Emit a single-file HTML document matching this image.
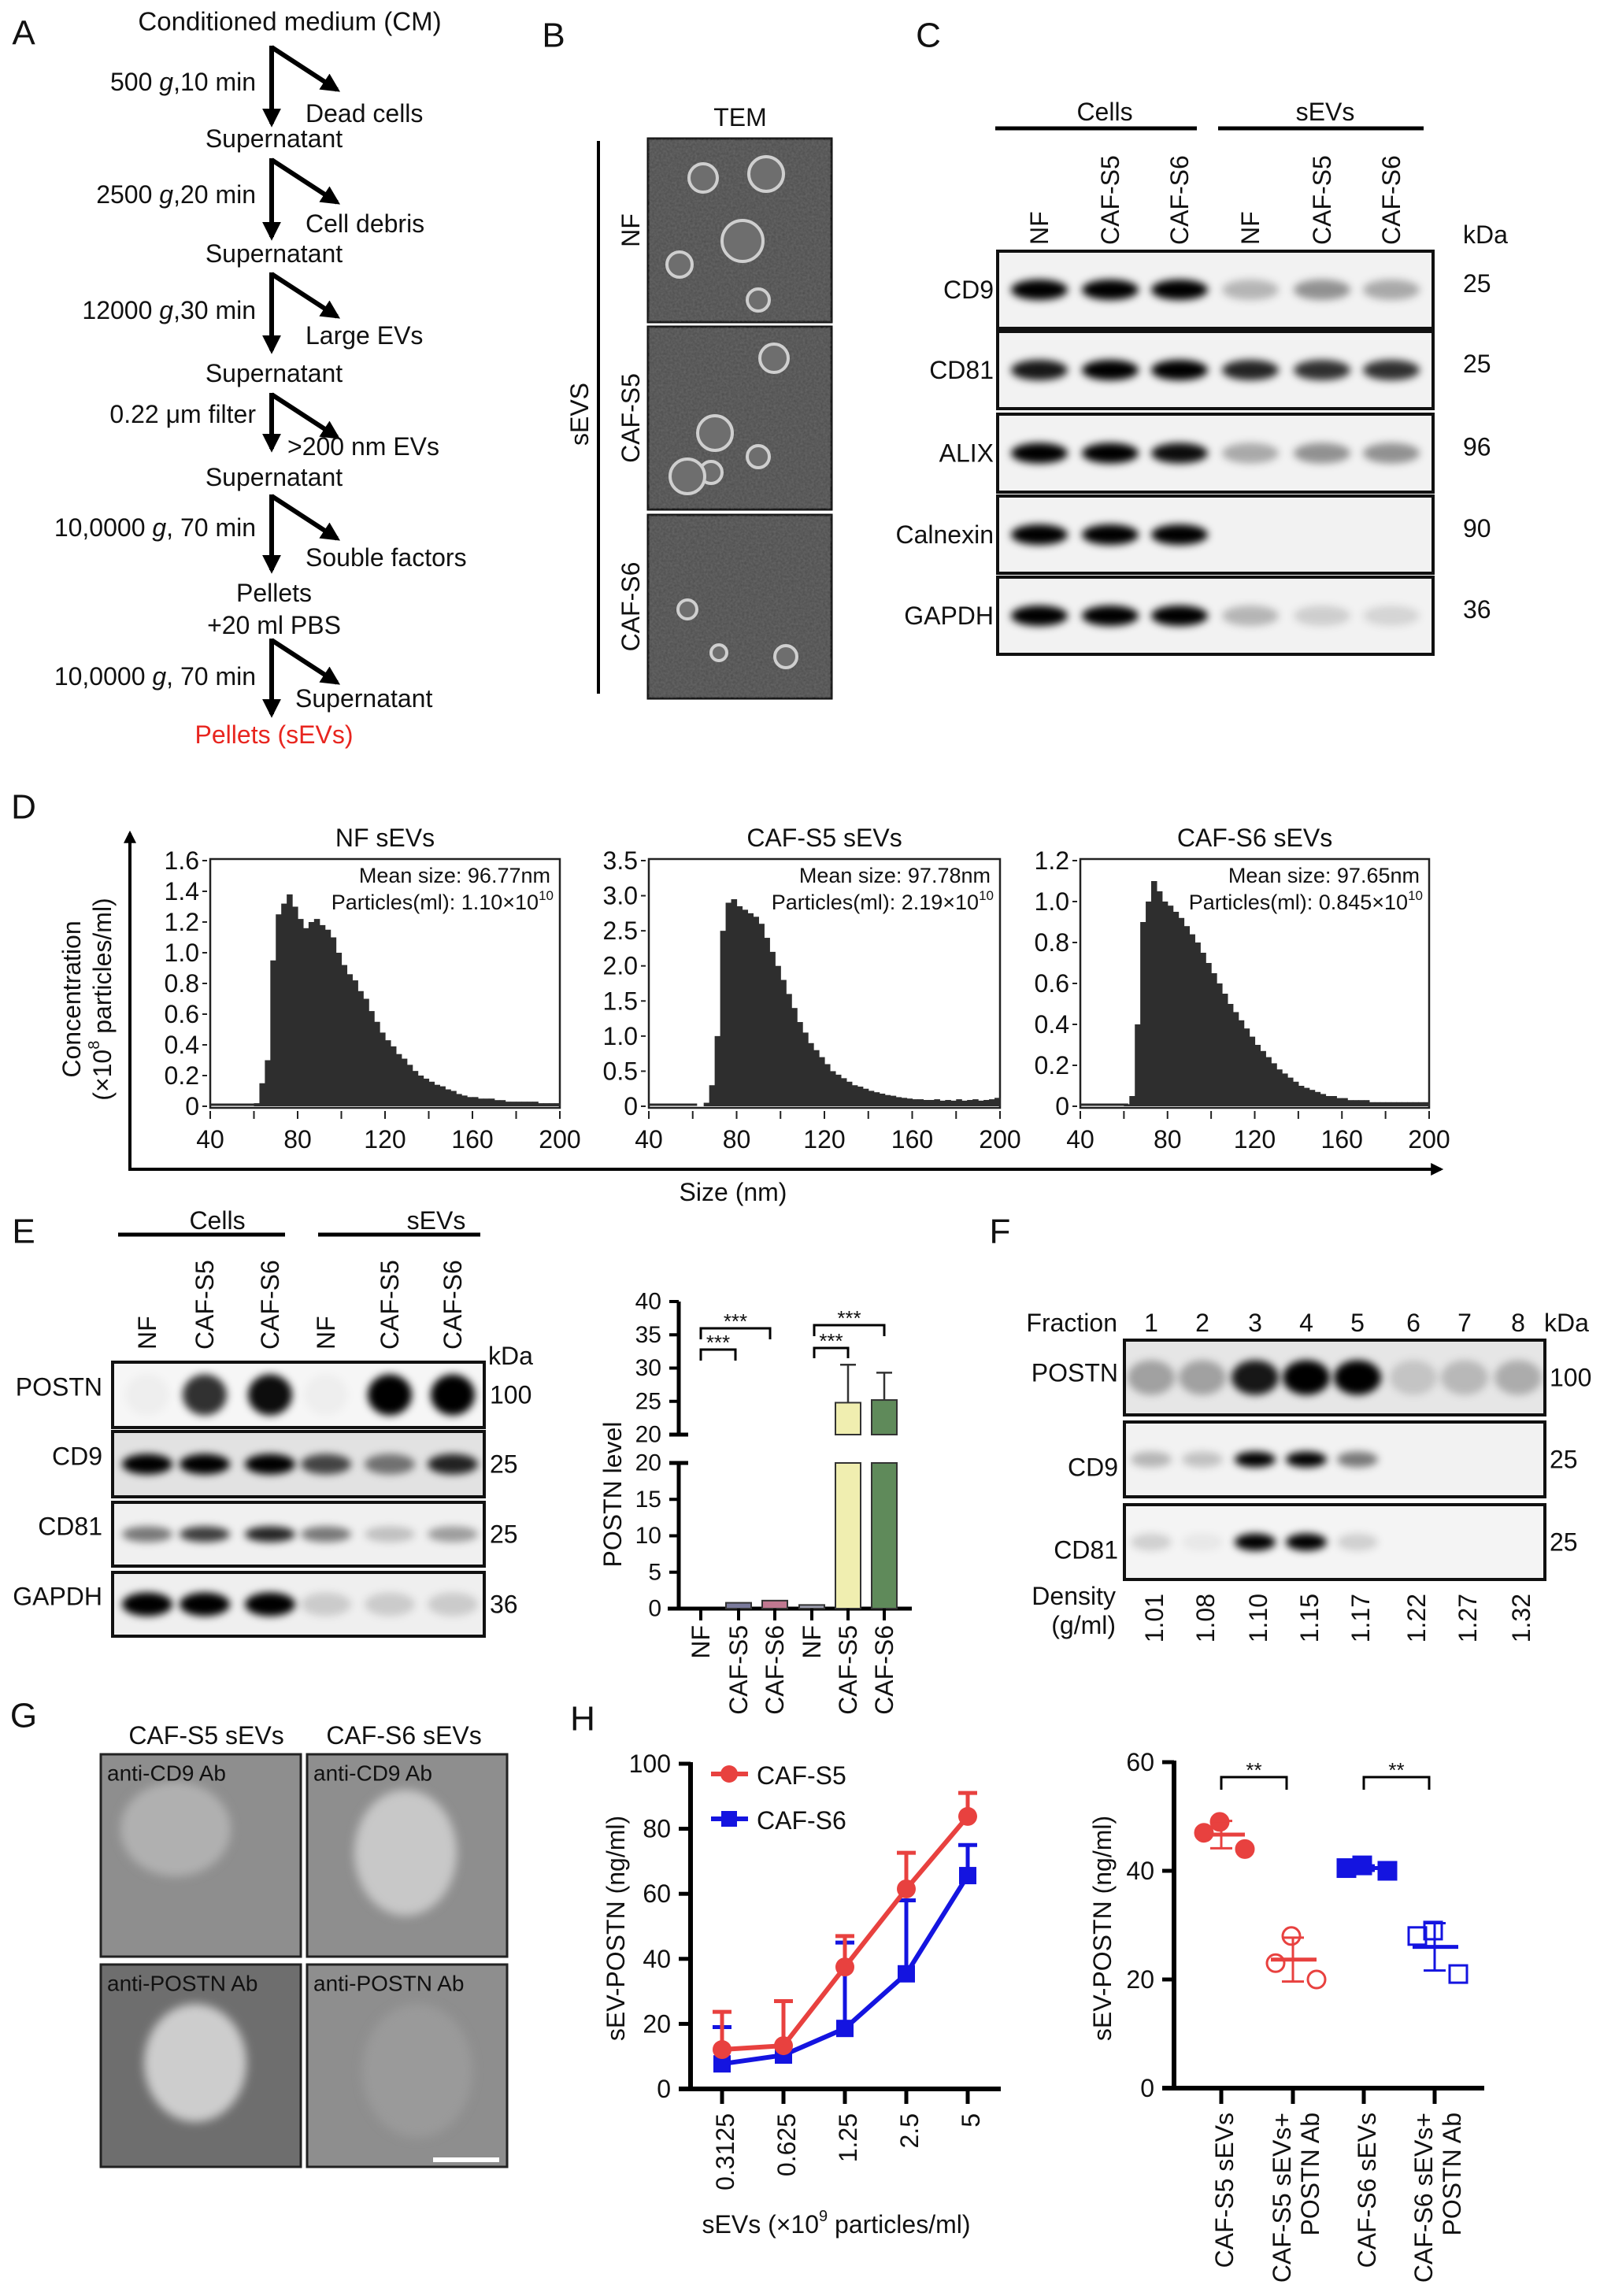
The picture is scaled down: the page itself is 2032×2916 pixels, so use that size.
<!DOCTYPE html>
<html><head><meta charset="utf-8"><style>
html,body{margin:0;padding:0;background:#fff}
svg{display:block}
text{font-family:"Liberation Sans",sans-serif;fill:#111}
</style></head><body>
<svg id="fig" xmlns="http://www.w3.org/2000/svg" width="2032" height="2916" viewBox="0 0 2032 2916">
<defs>
<filter id="blur" x="-50%" y="-100%" width="200%" height="300%"><feGaussianBlur stdDeviation="5"/></filter>
<filter id="noise" x="0" y="0" width="100%" height="100%"><feTurbulence type="fractalNoise" baseFrequency="0.35" numOctaves="2" seed="3"/><feColorMatrix type="matrix" values="0 0 0 0 0.35  0 0 0 0 0.35  0 0 0 0 0.35  0 0 0 0.5 0"/></filter>
<filter id="soft"><feGaussianBlur stdDeviation="6"/></filter>
<marker id="ah" viewBox="0 0 10 10" refX="8" refY="5" markerWidth="4" markerHeight="4" orient="auto"><path d="M0,0 L10,5 L0,10 z" fill="#000"/></marker>
</defs>
<g id="root"></g>
</svg>
<script>
const NS='http://www.w3.org/2000/svg';
const root=document.getElementById('root');
function el(tag,attrs,parent,txt){const e=document.createElementNS(NS,tag);for(const k in attrs)e.setAttribute(k,attrs[k]);if(txt!==undefined)e.textContent=txt;(parent||root).appendChild(e);return e;}
function T(x,y,s,size,anchor,extra,parent){const a={x:x,y:y,'font-size':size||32,'text-anchor':anchor||'middle','dominant-baseline':'central'};if(extra)for(const k in extra)a[k]=extra[k];return el('text',a,parent,s);}
function RT(x,y,s,size,anchor,parent){const e=el('text',{x:0,y:0,'font-size':size,'text-anchor':anchor,'dominant-baseline':'central',transform:'translate('+x+','+y+') rotate(-90)'},parent,s);return e;}

// ===== data arrays =====
const histBins=[40,42.5,45,47.5,50,52.5,55,57.5,60,62.5,65,67.5,70,72.5,75,77.5,80,82.5,85,87.5,90,92.5,95,97.5,100,102.5,105,107.5,110,112.5,115,117.5,120,122.5,125,127.5,130,132.5,135,137.5,140,142.5,145,147.5,150,152.5,155,157.5,160,162.5,165,167.5,170,172.5,175,177.5,180,182.5,185,187.5,190,192.5,195,197.5];
const nfHist=[0,0,0,0,0,0,0,0,0.02,0.15,0.3,0.95,1.25,1.32,1.38,1.3,1.22,1.16,1.2,1.22,1.18,1.15,1.1,1.0,0.92,0.86,0.82,0.75,0.7,0.62,0.55,0.48,0.43,0.39,0.34,0.31,0.27,0.23,0.2,0.18,0.16,0.14,0.13,0.11,0.1,0.08,0.07,0.06,0.06,0.05,0.05,0.05,0.04,0.04,0.03,0.03,0.03,0.03,0.03,0.03,0.02,0.02,0.02,0.02];
const s5Hist=[0,0,0,0,0,0,0,0,0,0,0.05,0.3,1.0,2.5,2.9,2.95,2.85,2.8,2.75,2.7,2.6,2.4,2.2,2.0,1.8,1.6,1.4,1.2,1.05,0.9,0.8,0.7,0.6,0.5,0.45,0.4,0.35,0.3,0.28,0.25,0.22,0.2,0.18,0.16,0.15,0.13,0.12,0.11,0.1,0.1,0.09,0.09,0.1,0.08,0.09,0.08,0.1,0.08,0.09,0.1,0.08,0.09,0.1,0.12];
const s6Hist=[0,0,0,0,0,0,0,0,0.01,0.05,0.4,0.9,1.0,1.1,1.05,1.0,0.98,0.95,0.92,0.88,0.84,0.8,0.75,0.7,0.65,0.6,0.55,0.5,0.46,0.42,0.38,0.34,0.3,0.27,0.24,0.21,0.18,0.16,0.14,0.12,0.1,0.09,0.08,0.07,0.06,0.05,0.05,0.04,0.04,0.03,0.03,0.03,0.03,0.02,0.02,0.02,0.02,0.02,0.02,0.02,0.02,0.02,0.02,0.02];
const barCats=['NF','CAF-S5','CAF-S6','NF','CAF-S5','CAF-S6'];
const barVals=[0,0.8,1.1,0.5,24.8,25.2];
const barErr=[0,0,0,0,30.5,29.3];
const doseCats=['0.3125','0.625','1.25','2.5','5'];
const s5Dose=[12.1,13.3,37.5,61.5,83.8];
const s5DoseErr=[23.7,27,47,72.6,91];
const s6Dose=[7.7,10.4,18.6,35.4,65.6];
const s6DoseErr=[19,10.4,45,58,75];
const scatCats=['CAF-S5 sEVs','CAF-S5 sEVs+|POSTN Ab','CAF-S6 sEVs','CAF-S6 sEVs+|POSTN Ab'];
const scatPts=[[49,44,47],[28,20,23],[41,40,40.5],[29,21,28]];
const yTicksDose=[0,20,40,60,80,100];
const yTicksScat=[0,20,40,60];

// ===== panel letters =====
[['A',30,42],['B',703,45],['C',1179,45],['D',30,1025],['E',30,1564],['F',1270,1564],['G',30,2179],['H',740,2183]].forEach(p=>{const t=T(p[1],p[2],p[0],44);});

// ===== Panel A flowchart =====
const gA=el('g',{},root);
T(368,27,'Conditioned medium (CM)',33,'middle',null,gA);
const steps=[[58,157,'500 ','g',',10 min',104,'Dead cells',144,'Supernatant',176],[201,301,'2500 ','g',',20 min',247,'Cell debris',284,'Supernatant',322],[346,445,'12000 ','g',',30 min',394,'Large EVs',426,'Supernatant',474],[499,570,'0.22 \u03bcm filter','','',526,'>200 nm EVs',567,'Supernatant',606],[628,724,'10,0000 ','g',', 70 min',670,'Souble factors',708,'Pellets',753],[811,907,'10,0000 ','g',', 70 min',859,'Supernatant',887,'Pellets (sEVs)',933]];
steps.forEach((s,i)=>{
 el('line',{x1:345,y1:s[0],x2:345,y2:s[1],stroke:'#000','stroke-width':6,'marker-end':'url(#ah)'},gA);
 el('line',{x1:345,y1:s[0]+2,x2:428,y2:s[0]+56,stroke:'#000','stroke-width':6,'marker-end':'url(#ah)'},gA);
 const t=el('text',{x:325,y:s[5],'font-size':32,'text-anchor':'end','dominant-baseline':'central'},gA);
 el('tspan',{},t,s[2]);if(s[3]){el('tspan',{'font-style':'italic'},t,s[3]);el('tspan',{},t,s[4]);}
 T(i==3?365:(i==5?375:388),s[7],s[6],32,'start',null,gA);
 T(348,s[9],s[8],32,'middle',i==5?{style:'fill:#e8251f'}:null,gA);
});
T(348,794,'+20 ml PBS',32,'middle',null,gA);

// ===== Panel B TEM =====
const gB=el('g',{},root);
T(940,149,'TEM',32,'middle',null,gB);
el('line',{x1:760,y1:179,x2:760,y2:881,stroke:'#000','stroke-width':4},gB);
RT(736,526,'sEVS',32,'middle',gB);
const temY=[[176,409,'NF'],[415,647,'CAF-S5'],[654,887,'CAF-S6']];
const vesicles=[[[70,50,18],[150,45,22],[120,130,26],[40,160,16],[140,205,14]],[[160,40,18],[85,135,22],[80,185,14],[50,190,22],[140,165,14]],[[50,120,12],[90,175,10],[175,180,14]]];
temY.forEach((r,i)=>{
 const g=el('g',{},gB);
 el('rect',{x:823,y:r[0],width:233,height:r[1]-r[0],fill:'#4c4c4c',stroke:'#111','stroke-width':3},g);
 el('rect',{x:823,y:r[0],width:233,height:r[1]-r[0],filter:'url(#noise)',opacity:0.7},g);
 vesicles[i].forEach(v=>{el('circle',{cx:823+v[0],cy:r[0]+v[1],r:v[2],fill:'#6e6e6e',stroke:'#cfcfcf','stroke-width':4},g);});
 RT(801,(r[0]+r[1])/2,r[2],32,'middle',gB);
});

// ===== Western blot helper =====
function blot(name,x0,x1,y0,y1,lanes,ints,rx,ry,bg,parent){
 const g=el('g',{},parent);
 el('rect',{x:x0,y:y0,width:x1-x0,height:y1-y0,fill:bg||'#f2f2f2'},g);
 lanes.forEach((lx,i)=>{if(ints[i]>0)el('ellipse',{cx:lx,cy:(y0+y1)/2,rx:rx,ry:ry,fill:'#000','fill-opacity':Math.min(1,ints[i]),filter:'url(#blur)'},g);});
 el('rect',{x:x0,y:y0,width:x1-x0,height:y1-y0,fill:'none',stroke:'#111','stroke-width':4},g);
 return g;
}

// ===== Panel C =====
const gC=el('g',{},root);
const cLanes=[1320,1410,1498,1588,1679,1767];
const laneNames=['NF','CAF-S5','CAF-S6','NF','CAF-S5','CAF-S6'];
T(1403,142,'Cells',32,'middle',null,gC);el('line',{x1:1264,y1:163,x2:1520,y2:163,stroke:'#000','stroke-width':5},gC);
T(1683,142,'sEVs',32,'middle',null,gC);el('line',{x1:1547,y1:163,x2:1808,y2:163,stroke:'#000','stroke-width':5},gC);
cLanes.forEach((x,i)=>RT(x,311,laneNames[i],32,'start',gC));
T(1858,298,'kDa',32,'start',null,gC);
const cRows=[['CD9',319,417,'25',[1,1,1,0.25,0.4,0.3]],['CD81',421,519,'25',[0.9,1,1,0.85,0.8,0.8]],['ALIX',526,625,'96',[1,1,0.95,0.3,0.4,0.4]],['Calnexin',630,728,'90',[1,1,1,0,0,0]],['GAPDH',733,831,'36',[1,1,1,0.25,0.15,0.12]]];
cRows.forEach(r=>{blot('blot-'+r[0].toLowerCase(),1267,1820,r[1],r[2],cLanes,r[4],36,13,'#f2f2f2',gC);T(1262,(r[1]+r[2])/2,r[0],32,'end',null,gC);T(1858,(r[1]+r[2])/2-8,r[3],32,'start',null,gC);});

// ===== Panel D histograms =====
const gD=el('g',{},root);
el('line',{x1:165,y1:1485,x2:165,y2:1058,stroke:'#000','stroke-width':4,'marker-end':'url(#ah)'},gD);
el('line',{x1:163,y1:1485,x2:1830,y2:1485,stroke:'#000','stroke-width':4,'marker-end':'url(#ah)'},gD);
T(931,1514,'Size (nm)',32,'middle',null,gD);
RT(91,1269,'Concentration',32,'middle',gD);
const yt=RT(130,1269,'',32,'middle',gD);el('tspan',{},yt,'(\u00d710');el('tspan',{'font-size':20,dy:-10},yt,'8');el('tspan',{dy:10},yt,' particles/ml)');
const hists=[['NF sEVs',267,711,nfHist,1.6,[0,0.2,0.4,0.6,0.8,1.0,1.2,1.4,1.6],'96.77','1.10'],['CAF-S5 sEVs',824,1270,s5Hist,3.5,[0,0.5,1.0,1.5,2.0,2.5,3.0,3.5],'97.78','2.19'],['CAF-S6 sEVs',1372,1815,s6Hist,1.2,[0,0.2,0.4,0.6,0.8,1.0,1.2],'97.65','0.845']];
const hy0=1405,hy1=1093;
hists.forEach(h=>{
 const g=el('g',{},gD);
 const xs=v=>h[1]+(v-40)/160*(h[2]-h[1]);const ys=v=>hy0-v/h[4]*(hy0-hy1);
 el('rect',{x:h[1],y:1091,width:h[2]-h[1],height:316,fill:'#fff',stroke:'#222','stroke-width':2.5},g);
 el('line',{x1:h[1],y1:hy0-2,x2:xs(62),y2:hy0-2,stroke:'#2b2b2b','stroke-width':3},g);
 h[3].forEach((v,i)=>{if(v<=0)return;const r=el('rect',{x:xs(histBins[i]),y:ys(v),width:xs(histBins[i]+2.5)-xs(histBins[i])+0.6,height:hy0-ys(v),fill:'#2e2e2e'},g);});
 h[5].forEach(t=>{el('line',{x1:h[1]-10,y1:ys(t),x2:h[1]-4,y2:ys(t),stroke:'#222','stroke-width':2},g);T(h[1]-14,ys(t),t===0?'0':t.toFixed(1),32,'end',null,g);});
 for(let v=40;v<=200;v+=20)el('line',{x1:xs(v),y1:1411,x2:xs(v),y2:1421,stroke:'#222','stroke-width':2},g);
 for(let v=40;v<=200;v+=40)T(xs(v),1447,String(v),32,'middle',null,g);
 T((h[1]+h[2])/2,1064,h[0],32,'middle',null,g);
 T(h[2]-12,1112,'Mean size: '+h[6]+'nm',27,'end',null,g);
 const p=el('text',{x:h[2]-8,y:1146,'font-size':27,'text-anchor':'end','dominant-baseline':'central'},g);
 el('tspan',{},p,'Particles(ml): '+h[7]+'\u00d710');el('tspan',{'font-size':17,dy:-9},p,'10');
});

// ===== Panel E blots =====
const gE=el('g',{},root);
const eLanes=[187,260,343,414,495,575];
T(276,1550,'Cells',32,'middle',null,gE);el('line',{x1:150,y1:1568,x2:362,y2:1568,stroke:'#000','stroke-width':5},gE);
T(554,1550,'sEVs',32,'middle',null,gE);el('line',{x1:404,y1:1568,x2:610,y2:1568,stroke:'#000','stroke-width':5},gE);
eLanes.forEach((x,i)=>RT(x,1714,laneNames[i],32,'start',gE));
T(620,1722,'kDa',32,'start',null,gE);
const eRows=[['POSTN',1730,1813,'100',[0.03,0.8,0.95,0.03,1,1],28,26,'#f6f6f6'],['CD9',1818,1901,'25',[1,1,1,0.7,0.5,0.85],32,13,'#e2e2e2'],['CD81',1908,1989,'25',[0.5,0.75,0.85,0.5,0.2,0.35],32,10,'#f0f0f0'],['GAPDH',1997,2078,'36',[1,1,1,0.15,0.15,0.15],32,15,'#efefef']];
eRows.forEach(r=>{blot('blot-e-'+r[0].toLowerCase(),143,615,r[1],r[2],eLanes,r[4],r[5],r[6],r[7],gE);T(130,(r[1]+r[2])/2-10,r[0],32,'end',null,gE);T(622,(r[1]+r[2])/2,r[3],32,'start',null,gE);});

// ===== Panel E bar chart =====
const gEB=el('g',{},root);
const bx=[890,938,984,1031,1077,1123];
const barColors=['#9a9ab0','#7a7a9c','#c07890','#9fa0b0','#f0eeb0','#5f8a5a'];
function byBar(v){return v<=20?2043-v/20*(2043-1858):1822-(v-20)/20*(1822-1653);}
el('line',{x1:862,y1:1653,x2:862,y2:1822,stroke:'#000','stroke-width':5},gEB);
el('line',{x1:862,y1:1858,x2:862,y2:2043,stroke:'#000','stroke-width':5},gEB);
el('line',{x1:850,y1:1822,x2:874,y2:1822,stroke:'#000','stroke-width':5},gEB);
el('line',{x1:850,y1:1858,x2:874,y2:1858,stroke:'#000','stroke-width':5},gEB);
el('line',{x1:848,y1:2043,x2:1158,y2:2043,stroke:'#000','stroke-width':5},gEB);
[20,25,30,35,40].forEach(t=>{const y=1822-(t-20)/20*169;el('line',{x1:850,y1:y,x2:862,y2:y,stroke:'#000','stroke-width':4},gEB);T(840,y,String(t),30,'end',null,gEB);});
[0,5,10,15].forEach(t=>{const y=byBar(t);el('line',{x1:850,y1:y,x2:862,y2:y,stroke:'#000','stroke-width':4},gEB);T(840,y,String(t),30,'end',null,gEB);});
T(840,1858,'20',30,'end',null,gEB);
RT(778,1898,'POSTN level',32,'middle',gEB);
barVals.forEach((v,i)=>{
 const x=bx[i]-16;
 if(v>0){
  if(v<=20){const r=el('rect',{x:x,y:byBar(v),width:32,height:2043-byBar(v),fill:barColors[i],stroke:'#333','stroke-width':2},gEB);}
  else{const r=el('rect',{x:x,y:1858,width:32,height:2043-1858,fill:barColors[i],stroke:'#333','stroke-width':2},gEB);
   const r2=el('rect',{x:x,y:byBar(v),width:32,height:1822-byBar(v),fill:barColors[i],stroke:'#333','stroke-width':2},gEB);}
 }
 if(barErr[i]>0){el('line',{x1:bx[i],y1:byBar(v),x2:bx[i],y2:byBar(barErr[i]),stroke:'#333','stroke-width':2.5},gEB);el('line',{x1:bx[i]-10,y1:byBar(barErr[i]),x2:bx[i]+10,y2:byBar(barErr[i]),stroke:'#333','stroke-width':2.5},gEB);}
 el('line',{x1:bx[i],y1:2043,x2:bx[i],y2:2058,stroke:'#000','stroke-width':4},gEB);
 RT(bx[i],2064,barCats[i],32,'end',gEB);
});
function bracket(x1,x2,y,drop,label,g){el('path',{d:'M'+x1+','+(y+drop)+' V'+y+' H'+x2+' V'+(y+drop),fill:'none',stroke:'#000','stroke-width':3},g);T((x1+x2)/2,y-9,label,26,'middle',null,g);}
bracket(890,978,1687,14,'***',gEB);bracket(890,934,1714,14,'***',gEB);
bracket(1034,1123,1683,14,'***',gEB);bracket(1034,1077,1712,13,'***',gEB);

// ===== Panel F =====
const gF=el('g',{},root);
const fLanes=[1462,1527,1594,1659,1724,1795,1860,1928];
const dens=['1.01','1.08','1.10','1.15','1.17','1.22','1.27','1.32'];
T(1419,1680,'Fraction',32,'end',null,gF);
fLanes.forEach((x,i)=>{T(x,1680,String(i+1),32,'middle',null,gF);RT(x+4,2024,dens[i],32,'end',gF);});
T(1961,1680,'kDa',32,'start',null,gF);
const fRows=[['POSTN',1702,1797,'100',[0.3,0.3,0.9,1,1,0.15,0.2,0.25],30,22,'#e6e6e6'],['CD9',1806,1901,'25',[0.25,0.2,1,1,0.5,0,0,0],26,10,'#f2f2f2'],['CD81',1911,2006,'25',[0.15,0.05,1,1,0.15,0,0,0],26,11,'#f4f4f4']];
fRows.forEach(r=>{blot('blot-f-'+r[0].toLowerCase(),1428,1962,r[1],r[2],fLanes,r[4],r[5],r[6],r[7],gF);T(1420,(r[1]+r[2])/2+(r[0]=='POSTN'?-6:10),r[0],32,'end',null,gF);T(1968,(r[1]+r[2])/2,r[3],32,'start',null,gF);});
T(1417,2027,'Density',32,'end',null,gF);T(1417,2064,'(g/ml)',32,'end',null,gF);

// ===== Panel G immuno-EM =====
const gG=el('g',{},root);
T(262,2204,'CAF-S5 sEVs',32,'middle',null,gG);T(513,2204,'CAF-S6 sEVs',32,'middle',null,gG);
const gImgs=[[128,2228,'anti-CD9 Ab',[95,95,70,60,'#b0b0b0']],[390,2228,'anti-CD9 Ab',[125,125,65,80,'#c8c8c8']],[128,2495,'anti-POSTN Ab',[120,125,65,75,'#cdcdcd']],[390,2495,'anti-POSTN Ab',[140,135,70,85,'#9a9a9a']]];
gImgs.forEach((im,i)=>{
 const g=el('g',{},gG);
 el('rect',{x:im[0],y:im[1],width:254,height:257,fill:i==2?'#6e6e6e':'#8e8e8e'},g);
 el('ellipse',{cx:im[0]+im[3][0],cy:im[1]+im[3][1],rx:im[3][2],ry:im[3][3],fill:im[3][4],filter:'url(#soft)'},g);
 el('rect',{x:im[0],y:im[1],width:254,height:257,fill:'none',stroke:'#222','stroke-width':3},g);
 T(im[0]+8,im[1]+24,im[2],28,'start',null,g);
});
el('rect',{x:550,y:2740,width:84,height:6,fill:'#fff'},gG);

// ===== Panel H line chart =====
const gH=el('g',{},root);
const hx=i=>917+i*(1229-917)/4;const hyv=v=>2653-v/100*(2653-2240);
el('line',{x1:877,y1:2238,x2:877,y2:2655,stroke:'#000','stroke-width':6},gH);
el('line',{x1:862,y1:2653,x2:1271,y2:2653,stroke:'#000','stroke-width':6},gH);
yTicksDose.forEach(t=>{el('line',{x1:862,y1:hyv(t),x2:877,y2:hyv(t),stroke:'#000','stroke-width':5},gH);T(852,hyv(t),String(t),32,'end',null,gH);});
doseCats.forEach((c,i)=>{el('line',{x1:hx(i),y1:2653,x2:hx(i),y2:2672,stroke:'#000','stroke-width':5},gH);RT(hx(i)+4,2684,c,32,'end',gH);});
RT(782,2449,'sEV-POSTN (ng/ml)',32,'middle',gH);
const xl=T(1062,2825,'',32,'middle',null,gH);el('tspan',{},xl,'sEVs (\u00d710');el('tspan',{'font-size':20,dy:-10},xl,'9');el('tspan',{dy:10},xl,' particles/ml)');
function series(vals,errs,color,marker,name){
 const g=el('g',{},gH);
 vals.forEach((v,i)=>{if(errs[i]>v){el('line',{x1:hx(i),y1:hyv(v),x2:hx(i),y2:hyv(errs[i]),stroke:color,'stroke-width':5},g);el('line',{x1:hx(i)-12,y1:hyv(errs[i]),x2:hx(i)+12,y2:hyv(errs[i]),stroke:color,'stroke-width':5},g);}});
 el('polyline',{points:vals.map((v,i)=>hx(i)+','+hyv(v)).join(' '),fill:'none',stroke:color,'stroke-width':6},g);
 vals.forEach((v,i)=>{const m=marker=='c'?el('circle',{cx:hx(i),cy:hyv(v),r:12,fill:color},g):el('rect',{x:hx(i)-11,y:hyv(v)-11,width:22,height:22,fill:color},g);});
}
series(s6Dose,s6DoseErr,'#1414e0','s','series-caf-s6');
series(s5Dose,s5DoseErr,'#e8413f','c','series-caf-s5');
const lg=el('g',{},gH);
el('line',{x1:903,y1:2253,x2:950,y2:2253,stroke:'#e8413f','stroke-width':6},lg);el('circle',{cx:926,cy:2253,r:11,fill:'#e8413f'},lg);T(961,2255,'CAF-S5',32,'start',null,lg);
el('line',{x1:903,y1:2310,x2:950,y2:2310,stroke:'#1414e0','stroke-width':6},lg);el('rect',{x:916,y:2300,width:20,height:20,fill:'#1414e0'},lg);T(961,2312,'CAF-S6',32,'start',null,lg);

// ===== Panel H scatter =====
const gS=el('g',{},root);
const sx=[1551,1642,1732,1822];const syv=v=>2652-v/60*(2652-2238);
el('line',{x1:1491,y1:2236,x2:1491,y2:2654,stroke:'#000','stroke-width':6},gS);
el('line',{x1:1476,y1:2652,x2:1885,y2:2652,stroke:'#000','stroke-width':6},gS);
yTicksScat.forEach(t=>{el('line',{x1:1476,y1:syv(t),x2:1491,y2:syv(t),stroke:'#000','stroke-width':5},gS);T(1466,syv(t),String(t),32,'end',null,gS);});
RT(1400,2449,'sEV-POSTN (ng/ml)',32,'middle',gS);
const sColors=['#e8413f','#e8413f','#1414e0','#1414e0'];
scatCats.forEach((c,i)=>{
 el('line',{x1:sx[i],y1:2652,x2:sx[i],y2:2672,stroke:'#000','stroke-width':5},gS);
 const parts=c.split('|');
 if(parts.length==1)RT(sx[i]+4,2683,parts[0],32,'end',gS);else{RT(sx[i]-14,2683,parts[0],32,'end',gS);RT(sx[i]+22,2683,parts[1],32,'end',gS);}
 const pts=scatPts[i];const mean=pts.reduce((a,b)=>a+b,0)/pts.length;const sd=Math.sqrt(pts.reduce((a,b)=>a+(b-mean)*(b-mean),0)/(pts.length-1));
 const col=sColors[i];const filled=(i%2==0);const sq=i>=2;
 pts.forEach((v,j)=>{const px=sx[i]+[-2,30,-22][j];let m;if(sq)m=el('rect',{x:px-11,y:syv(v)-11,width:22,height:22,fill:filled?col:'none',stroke:col,'stroke-width':3},gS);else m=el('circle',{cx:px,cy:syv(v),r:11,fill:filled?col:'none',stroke:col,'stroke-width':3},gS);});
 el('line',{x1:sx[i]-28,y1:syv(mean),x2:sx[i]+30,y2:syv(mean),stroke:col,'stroke-width':5},gS);
 el('line',{x1:sx[i],y1:syv(mean-sd),x2:sx[i],y2:syv(mean+sd),stroke:col,'stroke-width':3},gS);
 el('line',{x1:sx[i]-14,y1:syv(mean-sd),x2:sx[i]+14,y2:syv(mean-sd),stroke:col,'stroke-width':3},gS);
 el('line',{x1:sx[i]-14,y1:syv(mean+sd),x2:sx[i]+14,y2:syv(mean+sd),stroke:col,'stroke-width':3},gS);
});
bracket(1551,1634,2257,16,'**',gS);bracket(1732,1815,2257,16,'**',gS);
</script>
</body></html>
